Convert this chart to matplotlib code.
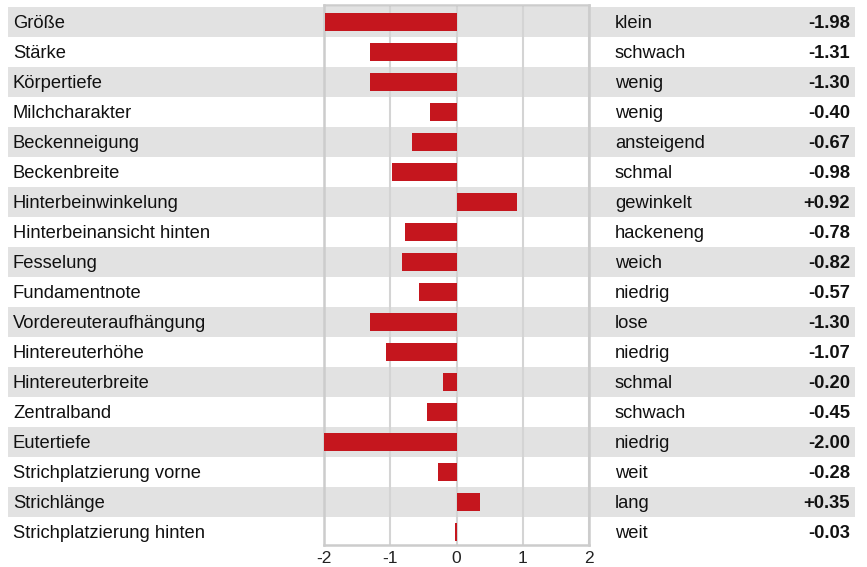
import matplotlib
matplotlib.use('Agg')
import matplotlib.pyplot as plt
from matplotlib.patches import Rectangle
from matplotlib.transforms import blended_transform_factory

plt.rcParams['font.family'] = ['Liberation Sans', 'DejaVu Sans']

traits = ['Größe', 'Stärke', 'Körpertiefe', 'Milchcharakter', 'Beckenneigung',
          'Beckenbreite', 'Hinterbeinwinkelung', 'Hinterbeinansicht hinten',
          'Fesselung', 'Fundamentnote', 'Vordereuteraufhängung', 'Hintereuterhöhe',
          'Hintereuterbreite', 'Zentralband', 'Eutertiefe', 'Strichplatzierung vorne',
          'Strichlänge', 'Strichplatzierung hinten']
descriptions = ['klein', 'schwach', 'wenig', 'wenig', 'ansteigend', 'schmal',
                'gewinkelt', 'hackeneng', 'weich', 'niedrig', 'lose', 'niedrig',
                'schmal', 'schwach', 'niedrig', 'weit', 'lang', 'weit']
values = [-1.98, -1.31, -1.30, -0.40, -0.67, -0.98, 0.92, -0.78, -0.82, -0.57,
          -1.30, -1.07, -0.20, -0.45, -2.00, -0.28, 0.35, -0.03]
ticks = [-2, -1, 0, 1, 2]

fig = plt.figure(figsize=(8.67, 5.67), dpi=100)
ax = fig.add_axes([324 / 867, 22 / 567, 265 / 867, 540 / 567])
ax.patch.set_visible(False)

n = len(traits)
ypos = list(range(n))

# grey bands on every other row, across the whole figure width
tr = blended_transform_factory(fig.transFigure, ax.transData)
for i in ypos:
    if i % 2 == 0:
        ax.add_patch(Rectangle((8 / 867, i - 0.5), 847 / 867, 1.0, transform=tr,
                               facecolor='#e2e2e2', edgecolor='none',
                               clip_on=False, zorder=0))

ax.barh(ypos, values, height=0.6, color='#c5161e', zorder=3)

ax.set_xlim(-2, 2)
ax.set_ylim(n - 0.5 - 2 / 30, -0.5 - 2 / 30)
ax.set_xticks(ticks)
ax.set_xticklabels([str(t) for t in ticks])
ax.set_yticks([])
ax.tick_params(axis='x', length=0, pad=4, labelsize=12.5, labelcolor='#222222')
ax.grid(axis='x', color='#d4d4d4', linewidth=1.5, zorder=1)
ax.set_axisbelow(True)
for s in ax.spines.values():
    s.set_color('#cccccc')
    s.set_linewidth(1.8)

for i in ypos:
    ax.text(13 / 867, i, traits[i], transform=tr, ha='left', va='center_baseline',
            fontsize=13.2, color='#111111')
    ax.text(615 / 867, i, descriptions[i], transform=tr, ha='left',
            va='center_baseline', fontsize=13.2, color='#111111')
    ax.text(850 / 867, i, f'{values[i]:+.2f}', transform=tr, ha='right',
            va='center_baseline', fontsize=13.2, fontweight='bold', color='#111111')

fig.savefig('out.png', dpi=100)
